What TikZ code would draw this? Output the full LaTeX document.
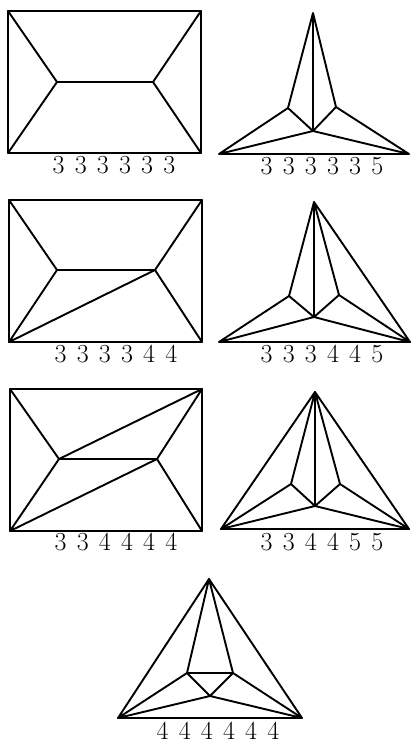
\documentclass[tikz,border=0pt]{standalone}
\begin{document}
\begin{tikzpicture}[x=1pt,y=-1pt,
  edge/.style={line width=1.9pt,line join=round,line cap=round},
  lbl/.style={inner sep=0pt,font={\fontsize{26}{30}\selectfont\spaceskip=10.2pt\relax}}]
\useasboundingbox (0,0) rectangle (412,745);
% Panel 1
\coordinate (a1) at (8,11); \coordinate (b1) at (201,11);
\coordinate (c1) at (201,153); \coordinate (d1) at (8,153);
\coordinate (p1) at (57,82); \coordinate (q1) at (153,82);
\draw[edge] (a1) -- (b1) -- (c1) -- (d1) -- cycle;
\draw[edge] (a1) -- (p1) -- (d1) (p1) -- (q1) (b1) -- (q1) -- (c1);
\node[lbl] (t1) at (114,165) {3 3 3 3 3 3};
% Panel 2
\coordinate (T2) at (313,13); \coordinate (L2) at (219,154); \coordinate (R2) at (409,154);
\coordinate (x2) at (288,108); \coordinate (y2) at (336,107); \coordinate (z2) at (313,131);
\draw[edge] (L2) -- (R2) (T2) -- (x2) (T2) -- (y2) (T2) -- (z2)
  (x2) -- (z2) -- (y2) (x2) -- (L2) (y2) -- (R2) (z2) -- (L2) (z2) -- (R2);
\node[lbl] (t2) at (322,166) {3 3 3 3 3 5};
% Panel 3
\coordinate (a3) at (9,200); \coordinate (b3) at (202,200);
\coordinate (c3) at (202,342); \coordinate (d3) at (9,342);
\coordinate (p3) at (57,270); \coordinate (q3) at (155,270);
\draw[edge] (a3) -- (b3) -- (c3) -- (d3) -- cycle;
\draw[edge] (a3) -- (p3) -- (d3) (p3) -- (q3) (b3) -- (q3) -- (c3) (d3) -- (q3);
\node[lbl] (t3) at (116,354) {3 3 3 3 4 4};
% Panel 4
\coordinate (T4) at (314,202); \coordinate (L4) at (219,342); \coordinate (R4) at (410,342);
\coordinate (x4) at (289,296); \coordinate (y4) at (339,295); \coordinate (z4) at (314,317);
\draw[edge] (L4) -- (R4) (T4) -- (x4) (T4) -- (y4) (T4) -- (z4) (T4) -- (R4)
  (x4) -- (z4) -- (y4) (x4) -- (L4) (y4) -- (R4) (z4) -- (L4) (z4) -- (R4);
\node[lbl] (t4) at (322,354) {3 3 3 4 4 5};
% Panel 5
\coordinate (a5) at (10,389); \coordinate (b5) at (202,389);
\coordinate (c5) at (202,531); \coordinate (d5) at (10,531);
\coordinate (p5) at (59,459); \coordinate (q5) at (157,459);
\draw[edge] (a5) -- (b5) -- (c5) -- (d5) -- cycle;
\draw[edge] (a5) -- (p5) -- (d5) (p5) -- (q5) (b5) -- (q5) -- (c5) (d5) -- (q5) (b5) -- (p5);
\node[lbl] (t5) at (116,542) {3 3 4 4 4 4};
% Panel 6
\coordinate (T6) at (315,392); \coordinate (L6) at (221,529); \coordinate (R6) at (409,529);
\coordinate (x6) at (291,484); \coordinate (y6) at (340,484); \coordinate (z6) at (315,506);
\draw[edge] (L6) -- (R6) (T6) -- (x6) (T6) -- (y6) (T6) -- (z6) (T6) -- (R6) (T6) -- (L6)
  (x6) -- (z6) -- (y6) (x6) -- (L6) (y6) -- (R6) (z6) -- (L6) (z6) -- (R6);
\node[lbl] (t6) at (322,542) {3 3 4 4 5 5};
% Panel 7
\coordinate (T7) at (209,579); \coordinate (L7) at (118,718); \coordinate (R7) at (302,718);
\coordinate (x7) at (187,673); \coordinate (y7) at (233,673); \coordinate (z7) at (210,696);
\draw[edge] (L7) -- (R7) (T7) -- (L7) (T7) -- (R7) (T7) -- (x7) (T7) -- (y7) (x7) -- (y7)
  (x7) -- (z7) -- (y7) (x7) -- (L7) (y7) -- (R7) (z7) -- (L7) (z7) -- (R7);
\node[lbl] (t7) at (218,731) {4 4 4 4 4 4};
\end{tikzpicture}
\end{document}
